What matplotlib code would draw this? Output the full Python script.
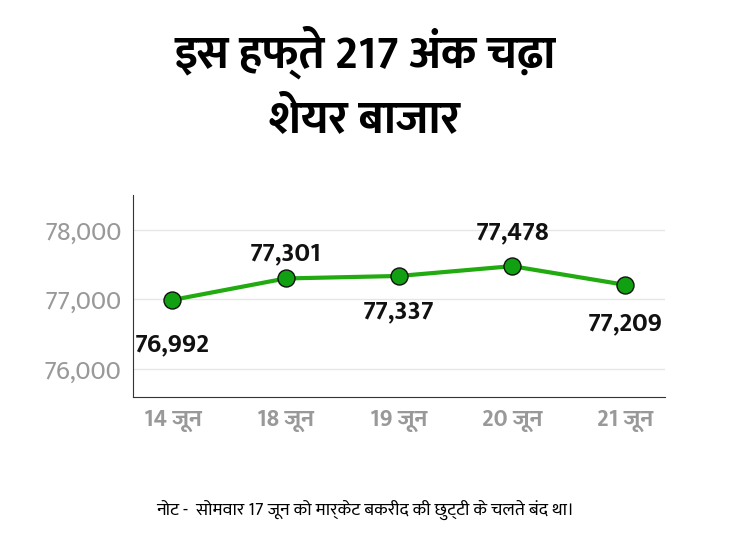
import matplotlib
matplotlib.use("Agg")
import matplotlib.pyplot as plt
from matplotlib import font_manager as fm

cands = [f.name for f in fm.fontManager.ttflist if "Devanagari" in f.name or "Lohit" in f.name or "Mukta" in f.name]
fams = cands[:1] + ["Noto Sans", "DejaVu Sans"]
plt.rcParams["font.family"] = fams

dates = ["14 जून", "18 जून", "19 जून", "20 जून", "21 जून"]
values = [76992, 77301, 77337, 77478, 77209]
labels = ["76,992", "77,301", "77,337", "77,478", "77,209"]
yticks = [76000, 77000, 78000]
yticklabels = ["76,000", "77,000", "78,000"]

fig = plt.figure(figsize=(7.30, 5.48), dpi=100)
ax = fig.add_axes([0.182, 0.276, 0.729, 0.368])
x = range(len(dates))
ax.plot(x, values, color="#22aa11", lw=3, zorder=2)
ax.scatter(x, values, s=150, color="#11a011", edgecolor="#111111", lw=1, zorder=3)
offs = [-32, 18, -26, 24, -28]
for i, (v, l, o) in enumerate(zip(values, labels, offs)):
    ax.annotate(l, (i, v), xytext=(0, o), textcoords="offset points", ha="center",
                va="center", fontsize=19, fontweight="bold", color="#111111")
ax.set_xlim(-0.35, 4.35)
ax.set_ylim(75600, 78500)
ax.set_yticks(yticks)
ax.set_yticklabels(yticklabels, fontsize=19, color="#999999")
ax.set_xticks(list(x))
ax.set_xticklabels(dates, fontsize=17, fontweight="bold", color="#999999")
ax.grid(axis="y", color="#e6e6e6", lw=1)
ax.set_axisbelow(True)
for s in ["top", "right"]:
    ax.spines[s].set_visible(False)
ax.spines["left"].set_color("#333333")
ax.spines["bottom"].set_color("#333333")
ax.tick_params(length=0, pad=8)
fig.text(0.5, 0.905, "इस हफ्ते 217 अंक चढ़ा", ha="center", va="center", fontsize=33, fontweight="bold")
fig.text(0.5, 0.78, "शेयर बाजार", ha="center", va="center", fontsize=33, fontweight="bold")
fig.text(0.5, 0.07, "नोट -  सोमवार 17 जून को मार्केट बकरीद की छुट्टी के चलते बंद था।", ha="center", va="center", fontsize=13)
fig.savefig("out.png", dpi=100)
